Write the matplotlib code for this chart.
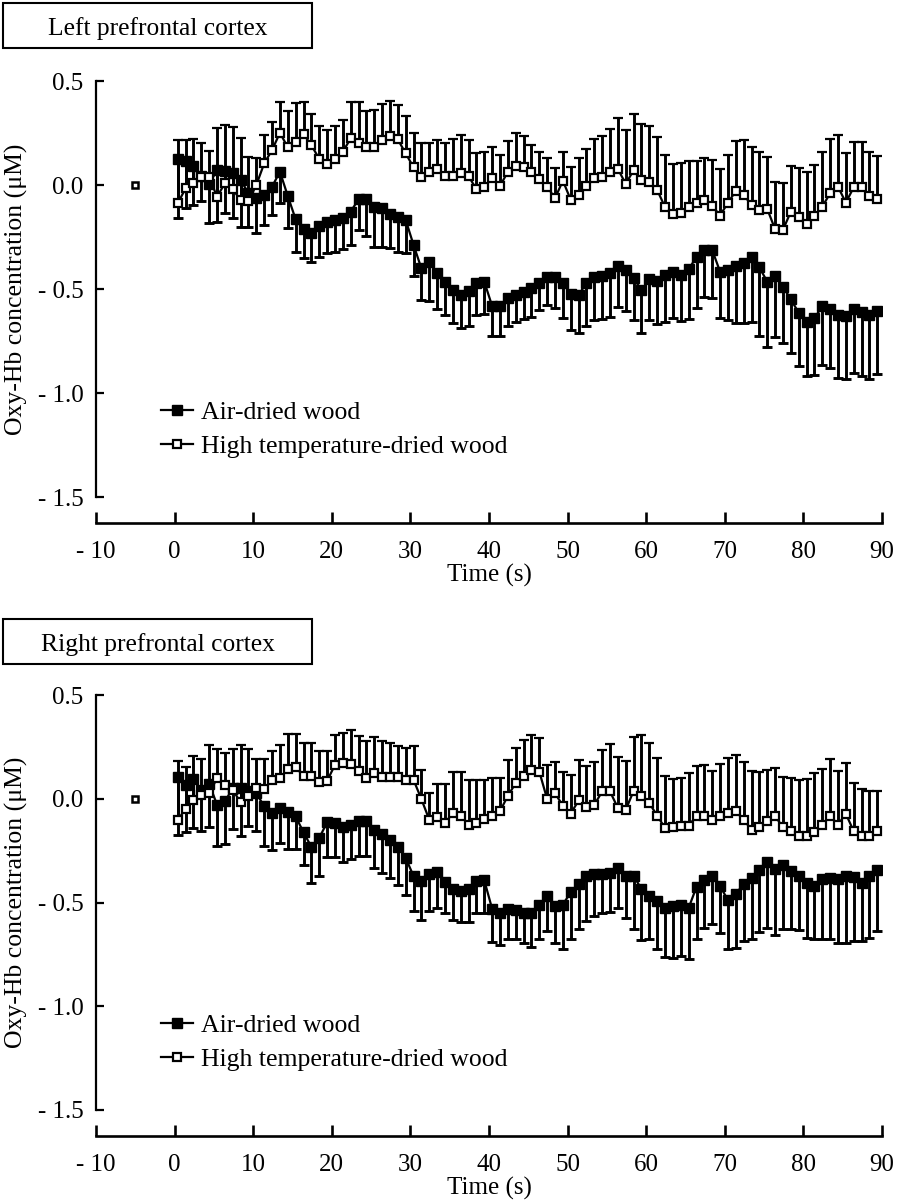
import numpy as np
import matplotlib.pyplot as plt
from matplotlib.patches import Rectangle
from matplotlib.lines import Line2D

plt.rcParams['font.family'] = ['Liberation Serif', 'DejaVu Serif']

# ========== Data ==========
t = np.arange(90) + 0.4   # one sample per second

# Left prefrontal cortex
L_air = np.array([
    0.125, 0.115, 0.091, 0.043, 0.005, 0.072, 0.067, 0.059, 0.024, -0.04,
    -0.064, -0.048, -0.008, 0.064, -0.053, -0.165, -0.213, -0.229, -0.197, -0.176,
    -0.168, -0.160, -0.128, -0.069, -0.069, -0.104, -0.112, -0.139, -0.155, -0.168,
    -0.288, -0.401, -0.369, -0.422, -0.465, -0.505, -0.529, -0.510, -0.470, -0.465,
    -0.582, -0.582, -0.545, -0.529, -0.513, -0.497, -0.473, -0.441, -0.441, -0.473,
    -0.524, -0.529, -0.470, -0.441, -0.438, -0.425, -0.390, -0.409, -0.449, -0.505,
    -0.454, -0.460, -0.433, -0.417, -0.433, -0.406, -0.345, -0.313, -0.313, -0.417,
    -0.409, -0.390, -0.377, -0.348, -0.396, -0.465, -0.438, -0.489, -0.550, -0.614,
    -0.657, -0.641, -0.582, -0.598, -0.625, -0.630, -0.598, -0.609, -0.625, -0.604])
L_air_lo = np.array([
    -0.157, -0.112, -0.096, -0.075, -0.184, -0.176, -0.136, -0.160, -0.200, -0.200,
    -0.229, -0.192, -0.144, -0.088, -0.208, -0.320, -0.353, -0.369, -0.345, -0.329,
    -0.320, -0.309, -0.288, -0.216, -0.245, -0.296, -0.296, -0.304, -0.320, -0.329,
    -0.438, -0.553, -0.556, -0.598, -0.625, -0.662, -0.689, -0.678, -0.625, -0.620,
    -0.724, -0.724, -0.678, -0.657, -0.646, -0.633, -0.601, -0.577, -0.593, -0.641,
    -0.697, -0.713, -0.678, -0.649, -0.646, -0.636, -0.585, -0.604, -0.649, -0.710,
    -0.649, -0.668, -0.657, -0.641, -0.652, -0.646, -0.593, -0.540, -0.545, -0.641,
    -0.649, -0.665, -0.665, -0.660, -0.726, -0.780, -0.729, -0.758, -0.809, -0.870,
    -0.918, -0.913, -0.865, -0.881, -0.929, -0.934, -0.902, -0.918, -0.934, -0.909])
L_ht = np.array([
    -0.088, -0.016, 0.011, 0.040, 0.037, -0.056, 0.008, -0.021, -0.072, -0.075,
    0.000, 0.104, 0.168, 0.251, 0.181, 0.208, 0.244, 0.192, 0.125, 0.101,
    0.123, 0.160, 0.224, 0.204, 0.184, 0.184, 0.216, 0.236, 0.219, 0.152,
    0.085, 0.040, 0.064, 0.077, 0.043, 0.043, 0.056, 0.043, -0.021, -0.008,
    0.032, -0.005, 0.064, 0.091, 0.085, 0.064, 0.027, -0.008, -0.064, 0.021,
    -0.072, -0.048, -0.005, 0.032, 0.037, 0.064, 0.077, 0.005, 0.072, 0.024,
    0.016, -0.024, -0.107, -0.139, -0.136, -0.107, -0.088, -0.072, -0.100, -0.147,
    -0.085, -0.029, -0.048, -0.096, -0.120, -0.115, -0.213, -0.216, -0.128, -0.152,
    -0.187, -0.149, -0.104, -0.040, -0.008, -0.085, -0.011, -0.011, -0.053, -0.067])
L_ht_hi = np.array([
    0.216, 0.216, 0.220, 0.200, 0.163, 0.276, 0.288, 0.277, 0.224, 0.133,
    0.128, 0.240, 0.304, 0.400, 0.357, 0.393, 0.400, 0.341, 0.284, 0.264,
    0.284, 0.312, 0.400, 0.400, 0.357, 0.360, 0.389, 0.405, 0.385, 0.330,
    0.248, 0.203, 0.203, 0.216, 0.200, 0.220, 0.240, 0.216, 0.152, 0.160,
    0.184, 0.144, 0.213, 0.252, 0.236, 0.192, 0.160, 0.128, 0.080, 0.157,
    0.085, 0.128, 0.171, 0.220, 0.236, 0.268, 0.320, 0.264, 0.341, 0.293,
    0.284, 0.232, 0.144, 0.101, 0.107, 0.115, 0.115, 0.128, 0.120, 0.075,
    0.144, 0.211, 0.216, 0.181, 0.160, 0.133, 0.016, 0.008, 0.091, 0.080,
    0.064, 0.096, 0.160, 0.220, 0.240, 0.152, 0.208, 0.208, 0.160, 0.139])

# Right prefrontal cortex
R_air = np.array([
    0.107, 0.067, 0.094, 0.043, 0.072, -0.029, -0.013, 0.051, 0.051, 0.035,
    0.027, -0.037, -0.069, -0.045, -0.066, -0.085, -0.162, -0.232, -0.189, -0.114,
    -0.117, -0.136, -0.125, -0.109, -0.109, -0.149, -0.168, -0.197, -0.232, -0.285,
    -0.373, -0.397, -0.365, -0.354, -0.402, -0.434, -0.446, -0.437, -0.397, -0.393,
    -0.531, -0.553, -0.531, -0.534, -0.553, -0.553, -0.510, -0.470, -0.518, -0.510,
    -0.450, -0.413, -0.373, -0.365, -0.361, -0.357, -0.333, -0.370, -0.370, -0.437,
    -0.470, -0.494, -0.526, -0.518, -0.510, -0.526, -0.425, -0.390, -0.373, -0.421,
    -0.489, -0.457, -0.413, -0.381, -0.345, -0.306, -0.338, -0.317, -0.349, -0.370,
    -0.405, -0.421, -0.389, -0.381, -0.389, -0.373, -0.376, -0.405, -0.373, -0.345])
R_air_lo = np.array([
    -0.173, -0.162, -0.141, -0.157, -0.136, -0.226, -0.216, -0.146, -0.181, -0.133,
    -0.157, -0.226, -0.245, -0.213, -0.242, -0.242, -0.317, -0.406, -0.371, -0.280,
    -0.280, -0.306, -0.290, -0.274, -0.274, -0.333, -0.357, -0.381, -0.418, -0.466,
    -0.542, -0.582, -0.542, -0.526, -0.553, -0.582, -0.595, -0.595, -0.553, -0.553,
    -0.691, -0.707, -0.675, -0.675, -0.697, -0.713, -0.678, -0.638, -0.697, -0.723,
    -0.675, -0.630, -0.590, -0.563, -0.553, -0.547, -0.526, -0.574, -0.630, -0.681,
    -0.678, -0.726, -0.761, -0.766, -0.758, -0.771, -0.678, -0.622, -0.606, -0.649,
    -0.726, -0.718, -0.686, -0.678, -0.643, -0.622, -0.659, -0.627, -0.630, -0.633,
    -0.670, -0.675, -0.675, -0.678, -0.694, -0.694, -0.686, -0.686, -0.670, -0.638])
R_ht = np.array([
    -0.101, -0.050, -0.005, 0.019, 0.027, 0.099, 0.067, 0.043, -0.018, 0.011,
    0.051, 0.046, 0.091, 0.099, 0.142, 0.152, 0.110, 0.110, 0.083, 0.086,
    0.163, 0.171, 0.168, 0.136, 0.099, 0.123, 0.107, 0.104, 0.104, 0.090,
    0.091, -0.002, -0.101, -0.088, -0.117, -0.069, -0.082, -0.125, -0.117, -0.098,
    -0.082, -0.061, 0.015, 0.075, 0.110, 0.139, 0.131, -0.002, 0.027, -0.034,
    -0.072, -0.008, -0.040, -0.029, 0.035, 0.035, -0.045, -0.053, 0.038, 0.015,
    -0.021, -0.082, -0.141, -0.136, -0.133, -0.130, -0.082, -0.082, -0.101, -0.082,
    -0.069, -0.061, -0.101, -0.149, -0.136, -0.109, -0.085, -0.136, -0.157, -0.181,
    -0.181, -0.162, -0.125, -0.082, -0.125, -0.072, -0.157, -0.178, -0.181, -0.157])
R_ht_hi = np.array([
    0.184, 0.155, 0.207, 0.190, 0.260, 0.238, 0.220, 0.238, 0.260, 0.238,
    0.190, 0.190, 0.232, 0.260, 0.313, 0.313, 0.271, 0.271, 0.232, 0.232,
    0.308, 0.316, 0.329, 0.303, 0.280, 0.296, 0.280, 0.268, 0.252, 0.245,
    0.252, 0.139, 0.027, 0.072, 0.072, 0.128, 0.128, 0.091, 0.091, 0.091,
    0.099, 0.099, 0.187, 0.244, 0.284, 0.308, 0.292, 0.163, 0.179, 0.131,
    0.115, 0.187, 0.158, 0.179, 0.235, 0.263, 0.203, 0.184, 0.297, 0.308,
    0.268, 0.198, 0.112, 0.094, 0.099, 0.126, 0.158, 0.163, 0.136, 0.168,
    0.198, 0.211, 0.179, 0.134, 0.131, 0.139, 0.147, 0.107, 0.099, 0.088,
    0.094, 0.126, 0.142, 0.190, 0.136, 0.174, 0.078, 0.046, 0.035, 0.035])

baseline_t = [-5]
baseline_v = [0.0]

x_ticks = [-10, 0, 10, 20, 30, 40, 50, 60, 70, 80, 90]
x_ticklabels = ['- 10', '0', '10', '20', '30', '40', '50', '60', '70', '80', '90']
y_ticks = [0.5, 0.0, -0.5, -1.0, -1.5]
y_ticklabels = ['0.5', '0.0', '- 0.5', '- 1.0', '- 1.5']

titles = ['Left prefrontal cortex', 'Right prefrontal cortex']
labels = ['Air-dried wood', 'High temperature-dried wood']

# ========== Figure ==========
W, H = 898, 1203
fig = plt.figure(figsize=(W / 100, H / 100), dpi=100)


def px_axes(left, top, right, bottom):
    return fig.add_axes([left / W, 1 - bottom / H, (right - left) / W, (bottom - top) / H])


def title_box(text, x0, y0, x1, y1):
    fig.patches.append(Rectangle((x0 / W, 1 - y1 / H), (x1 - x0) / W, (y1 - y0) / H,
                                 transform=fig.transFigure, fill=False,
                                 edgecolor='black', linewidth=1.5))
    fig.text((x0 + x1) / 2 / W, 1 - ((y0 + y1) / 2 + 3) / H, text, ha='center',
             va='center', fontsize=18.4)


def draw_panel(ax, air, air_lo, ht, ht_hi):
    zeros = np.zeros(len(t))
    ax.errorbar(t, air, yerr=[air - air_lo, zeros], fmt='s-', color='black',
                ms=7, lw=1.6, elinewidth=2.1, capsize=3.6, capthick=2.1, zorder=3)
    ax.errorbar(t, ht, yerr=[zeros, ht_hi - ht], fmt='s-', color='black',
                mfc='white', mec='black', mew=1.6, ms=5.8, lw=1.6,
                elinewidth=2.1, capsize=3.6, capthick=2.1, zorder=4)
    ax.plot(baseline_t, baseline_v, 's', ms=4.2, mfc='white', mec='black', mew=1.8)

    ax.set_xlim(-10, 90)
    ax.set_ylim(-1.5, 0.5)
    ax.spines['top'].set_visible(False)
    ax.spines['right'].set_visible(False)
    ax.spines['bottom'].set_position(('outward', 18.5))
    ax.spines['left'].set_linewidth(1.6)
    ax.spines['bottom'].set_linewidth(1.9)

    ax.set_xticks(x_ticks)
    ax.set_xticklabels(x_ticklabels)
    ax.set_yticks(y_ticks)
    ax.set_yticklabels(y_ticklabels)
    ax.tick_params(axis='x', direction='in', length=8, width=1.9, pad=13, labelsize=18)
    ax.tick_params(axis='y', direction='in', length=6, width=1.6, pad=9, labelsize=18)

    ax.set_xlabel('Time (s)', fontsize=18, labelpad=1)
    ax.set_ylabel('Oxy-Hb concentration (μM)', fontsize=18.5)
    ax.yaxis.set_label_coords(-0.087, 0.5)

    handles = [
        Line2D([], [], color='black', marker='s', ms=7, lw=1.6),
        Line2D([], [], color='black', marker='s', ms=5.8, lw=1.6, mfc='white', mew=1.6),
    ]
    ax.legend(handles, labels, loc='upper left', bbox_to_anchor=(0.083, 0.231),
              frameon=False, fontsize=18.5, handlelength=1.25, handletextpad=0.3,
              labelspacing=0.42, borderpad=0, borderaxespad=0)


ax1 = px_axes(96, 81, 882, 497)
draw_panel(ax1, L_air, L_air_lo, L_ht, L_ht_hi)
title_box(titles[0], 3, 3, 312, 48)

ax2 = px_axes(96, 695, 882, 1110)
draw_panel(ax2, R_air, R_air_lo, R_ht, R_ht_hi)
title_box(titles[1], 3, 619, 312, 664)

fig.savefig('out.png', dpi=100)
